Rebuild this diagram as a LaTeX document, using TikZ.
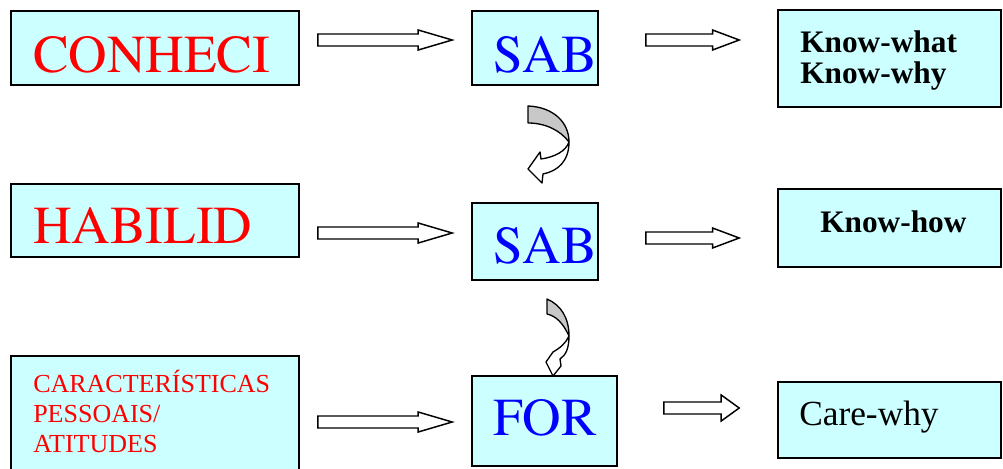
\documentclass[tikz,border=0pt]{standalone}
\usepackage{fontspec}
\setmainfont{Liberation Serif}
\usetikzlibrary{calc}

\definecolor{boxcyan}{HTML}{CCFFFF}
\definecolor{curlgray}{HTML}{C8C8C8}

\tikzstyle{box} = [draw=black, line width=1.2pt, fill=boxcyan, inner sep=0pt]
\tikzstyle{bigtext} = [anchor=base west, inner sep=0pt, font=\fontencoding{T1}\fontfamily{ptm}\fontsize{40pt}{48pt}\selectfont]
\tikzstyle{small} = [anchor=base west, inner sep=0pt, text=red, font=\fontsize{19.5pt}{23pt}\selectfont]
\tikzstyle{know} = [anchor=base west, inner sep=0pt, font=\fontsize{23.5pt}{28pt}\selectfont\bfseries]
\tikzstyle{curl} = [draw=black, line width=1pt, line join=round]
% hollow block arrow: #1 = head length, #2 = half head height
\tikzset{fatarrow/.style 2 args={draw=black, line width=1.1pt, fill=white, line join=miter,
  to path={let \p1=(\tikztostart), \p2=(\tikztotarget) in
    (\x1,\y1+4.5pt) -- (\x2-#1,\y1+4.5pt) -- (\x2-#1,\y1+#2) -- (\x2,\y1)
    -- (\x2-#1,\y1-#2) -- (\x2-#1,\y1-4.5pt) -- (\x1,\y1-4.5pt) -- cycle}}}

\begin{document}
\begin{tikzpicture}[x=0.75pt, y=-0.75pt]
      \useasboundingbox (0,0) rectangle (1003,468);

      % boxes
      \node[box, minimum width=216pt, minimum height=55.5pt] (conheci) at (155,48) {};
      \node[box, minimum width=94.5pt, minimum height=55.5pt] (sab1) at (535,48) {};
      \node[box, minimum width=167.25pt, minimum height=72.75pt] (knowwhat) at (889.5,58.5) {};
      \node[box, minimum width=216pt, minimum height=54.75pt] (habilid) at (155,220.5) {};
      \node[box, minimum width=94.5pt, minimum height=57.75pt] (sab2) at (535,241.5) {};
      \node[box, minimum width=167.25pt, minimum height=58.5pt] (knowhow) at (889.5,228) {};
      \node[box, minimum width=216pt, minimum height=91.5pt] (caract) at (155,417) {};
      \node[box, minimum width=108.75pt, minimum height=67.5pt] (for) at (544.5,421) {};
      \node[box, minimum width=167.25pt, minimum height=57pt] (carewhy) at (889.5,420) {};

      % texts
      \node[bigtext, text=red] (tconheci) at (33,72) {CONHECI};
      \node[bigtext, text=red] (thabilid) at (33,243) {HABILID};
      \node[bigtext, text=blue] (tsab1) at (493,72) {SAB};
      \node[bigtext, text=blue] (tsab2) at (493,263) {SAB};
      \node[bigtext, text=blue] (tfor) at (493,435) {FOR};
      \foreach \t [count=\i] in {CARACTERÍSTICAS, PESSOAIS/, ATITUDES}
        \node[small] (tcaract\i) at (33,362+30*\i) {\t};
      \node[know] (twhat) at (800,52) {Know-what};
      \node[know] (twhy) at (800,83) {Know-why};
      \node[know] (thow) at (820,232) {Know-how};
      \node[anchor=base west, inner sep=0pt, font=\fontsize{26.5pt}{32pt}\selectfont] (tcare) at (799,425) {Care-why};

      % block arrows
      \draw[fatarrow={25.5pt}{7.5pt}] (conheci.east) ++(18,-8) to ([xshift=-14.25pt]sab1.west);
      \draw[fatarrow={25.5pt}{7.5pt}] (habilid.east) ++(18,12.5) to ([xshift=-14.25pt]sab2.west);
      \draw[fatarrow={25.5pt}{7.5pt}] (caract.east) ++(18,5) to ([xshift=-14.25pt]for.west);
      \draw[fatarrow={20pt}{7.5pt}] (sab1.east) ++(47,-8) to ([xshift=-28.5pt]knowwhat.west);
      \draw[fatarrow={20pt}{7.5pt}] (sab2.east) ++(47,-3.5) to ([xshift=-28.5pt]knowhow.west);
      \draw[fatarrow={13.5pt}{9.75pt}] (for.east) ++(46,-13) to ([xshift=-28.5pt]carewhy.west);

      % curled arrows
      \draw[curl, fill=curlgray] (528,106) .. controls (553,107) and (569,122) .. (569,142)
        .. controls (560,130) and (545,123) .. (528,123) -- cycle;
      \draw[curl, fill=white] (569,142) .. controls (569,161) and (558,171) .. (543,174)
        -- (542,183) -- (528,169) -- (540,152) -- (541,159)
        .. controls (555,157) and (566,151) .. (569,142) -- cycle;
      \draw[curl, fill=curlgray] (547,299) .. controls (561,305) and (569,318) .. (569,336)
        .. controls (563,323) and (556,316) .. (547,314) -- cycle;
      \draw[curl, fill=white] (569,336) .. controls (569,348) and (566,355) .. (560,359)
        -- (561,366) -- (553,376) -- (546,362) -- (553,352)
        .. controls (560,348) and (566,343) .. (569,336) -- cycle;
    \end{tikzpicture}
\end{document}
